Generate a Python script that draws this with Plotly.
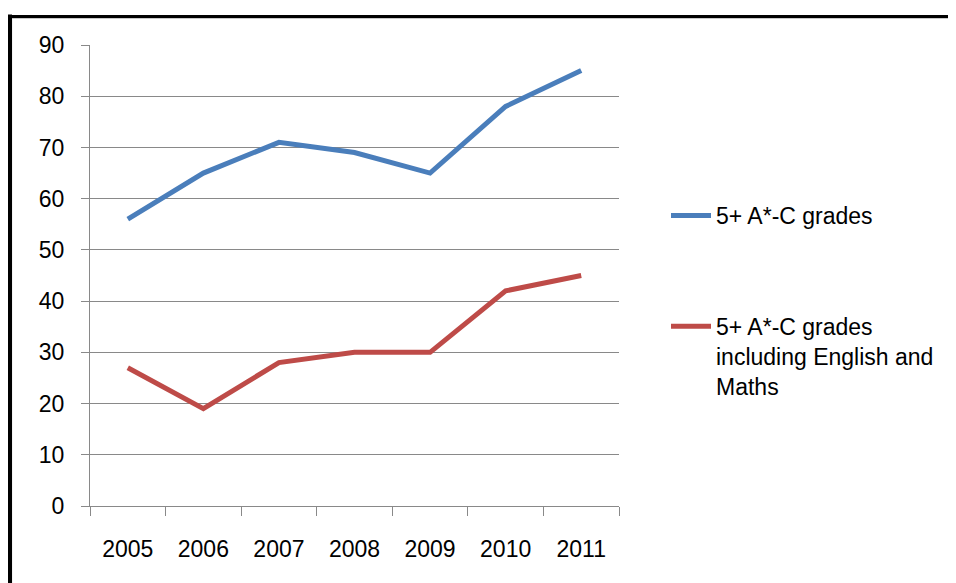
import plotly.graph_objects as go

years = ["2005", "2006", "2007", "2008", "2009", "2010", "2011"]
all_grades = [56, 65, 71, 69, 65, 78, 85]
eng_maths = [27, 19, 28, 30, 30, 42, 45]
names = ["5+ A*-C grades", "5+ A*-C grades<br>including English and<br>Maths"]
colors = ["#4A7EBB", "#BE4B48"]

# page body has an 8px margin; work in reference pixel coords minus 8
OFF = 8
W, H = 956, 583
L, R, T, B = 90 - OFF, 619 - OFF, 45 - OFF, 506 - OFF

def px_x(p):
    return (p - OFF - L) / (R - L)

def px_y(p):
    return 1 - (p - OFF - T) / (B - T)

font = dict(family="Liberation Sans, Arial, sans-serif", size=23, color="#000000")

fig = go.Figure()
for vals, name, col, grp in zip([all_grades, eng_maths], names, colors, ["a", "b"]):
    fig.add_trace(go.Scatter(x=years, y=vals, mode="lines", name=name,
                             legendgroup=grp,
                             line=dict(color=col, width=5)))

fig.update_layout(
    width=W, height=H,
    margin=dict(l=L, r=W - R, t=T, b=H - B, pad=0),
    paper_bgcolor="white", plot_bgcolor="white",
    font=font,
    showlegend=True,
    legend=dict(x=px_x(666), y=px_y(194), xanchor="left", yanchor="top",
                valign="top", tracegroupgap=78, itemwidth=40,
                font=font, bgcolor="rgba(0,0,0,0)"),
    xaxis=dict(type="category", range=[-0.5, 6.5], tickson="boundaries",
               ticks="outside", ticklen=9, tickcolor="#898989", tickwidth=1.3,
               showline=True, linecolor="#898989", linewidth=1.3,
               showgrid=False, ticklabelstandoff=22, tickfont=font),
    yaxis=dict(range=[0, 90], dtick=10, ticks="outside", ticklen=8,
               tickcolor="#898989", tickwidth=1.3,
               showline=True, linecolor="#898989", linewidth=1.3,
               showgrid=True, gridcolor="#898989", gridwidth=1.3,
               zeroline=False, ticklabelstandoff=12, tickfont=font),
    shapes=[
        dict(type="line", xref="paper", yref="paper",
             x0=px_x(9.7), x1=px_x(9.7), y0=px_y(14.5), y1=px_y(620),
             line=dict(color="black", width=4.7)),
        dict(type="line", xref="paper", yref="paper",
             x0=px_x(7.3), x1=px_x(980), y0=px_y(16.5), y1=px_y(16.5),
             line=dict(color="black", width=3)),
        dict(type="line", xref="paper", yref="paper",
             x0=px_x(12), x1=px_x(980), y0=px_y(18.5), y1=px_y(18.5),
             line=dict(color="#C8C8C8", width=1)),
    ],
)

fig.write_html("out.html")
